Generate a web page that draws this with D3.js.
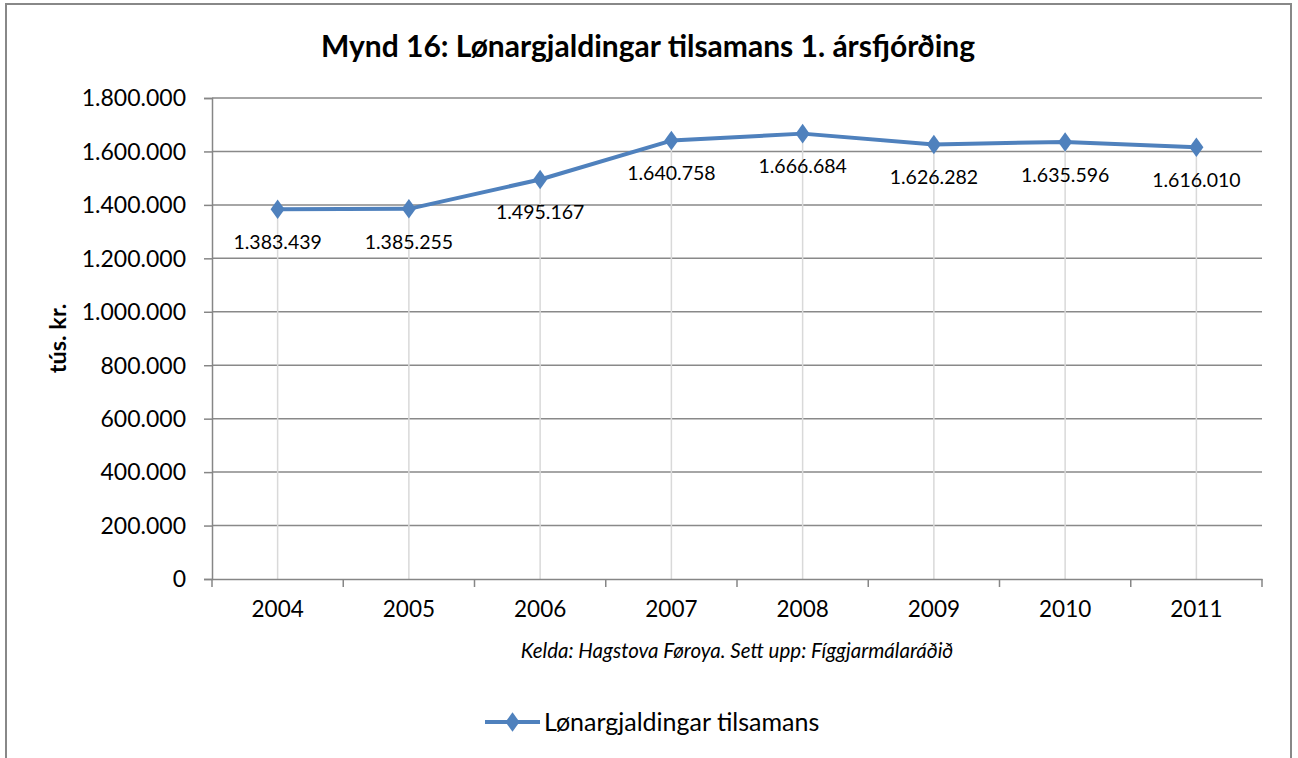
<!DOCTYPE html>
<html>
<head>
    <meta charset="utf-8">
    <script src="https://d3js.org/d3.v7.min.js"></script>
    <style>
        body {
            margin: 0;
            background: #fff;
            font-family: Lato, "Open Sans", sans-serif;
        }
        svg text {
            fill: #000;
        }
    </style>
</head>
<body>
    <script>
        const years = ["2004", "2005", "2006", "2007", "2008", "2009", "2010", "2011"];
        const wages = [1383439, 1385255, 1495167, 1640758, 1666684, 1626282, 1635596, 1616010];
        const yTicks = [0, 200000, 400000, 600000, 800000, 1000000, 1200000, 1400000, 1600000, 1800000];

        const title = "Mynd 16: Lønargjaldingar tilsamans 1. ársfjórðing";
        const yTitle = "tús. kr.";
        const source = "Kelda: Hagstova Føroya. Sett upp: Fíggjarmálaráðið";
        const seriesName = "Lønargjaldingar tilsamans";

        const data = years.map((y, i) => ({ year: y, value: wages[i] }));

        const width = 1298, height = 758;
        const margin = { top: 98, right: 36, bottom: 179, left: 212 };
        const blue = "#4f81bd";
        const fmt = v => d3.format(",")(v).replace(/,/g, ".");

        const svg = d3.select("body").append("svg")
            .attr("width", width)
            .attr("height", height);

        // outer frame (bottom edge is cut off in the original)
        svg.append("rect")
            .attr("x", 6).attr("y", 4)
            .attr("width", 1285).attr("height", 800)
            .attr("fill", "none")
            .attr("stroke", "#888")
            .attr("stroke-width", 2);

        const x = d3.scaleBand()
            .domain(years)
            .range([margin.left, width - margin.right]);

        const y = d3.scaleLinear()
            .domain([0, 1800000])
            .range([height - margin.bottom, margin.top]);

        // horizontal gridlines
        svg.append("g")
            .selectAll("line")
            .data(yTicks.filter(t => t > 0))
            .enter().append("line")
            .attr("x1", margin.left)
            .attr("x2", width - margin.right)
            .attr("y1", d => y(d))
            .attr("y2", d => y(d))
            .attr("stroke", "#898989")
            .attr("stroke-width", 1.5);

        // drop lines from points to axis
        svg.append("g")
            .selectAll("line")
            .data(data)
            .enter().append("line")
            .attr("x1", d => x(d.year) + x.bandwidth() / 2)
            .attr("x2", d => x(d.year) + x.bandwidth() / 2)
            .attr("y1", d => y(d.value))
            .attr("y2", y(0))
            .attr("stroke", "#d9d9d9")
            .attr("stroke-width", 1.5);

        // y axis
        const yAxis = svg.append("g")
            .attr("transform", `translate(${margin.left},0)`)
            .call(d3.axisLeft(y).tickValues(yTicks).tickFormat(fmt).tickSize(8).tickPadding(18));
        yAxis.selectAll("line, path").attr("stroke", "#868686").attr("stroke-width", 1.5);
        yAxis.selectAll("text")
            .style("font-family", "Lato, sans-serif")
            .style("font-size", "23px")
            .attr("dy", "0.34em");

        // x axis
        const xAxis = svg.append("g")
            .attr("transform", `translate(0,${y(0)})`)
            .call(d3.axisBottom(x).tickSize(0).tickPadding(22));
        xAxis.select("path").attr("stroke", "#868686").attr("stroke-width", 1.5);
        xAxis.selectAll("text")
            .style("font-family", "Lato, sans-serif")
            .style("font-size", "22.5px")
            .attr("dy", "0.72em");

        // x tick marks at category boundaries
        svg.append("g")
            .selectAll("line")
            .data(years.concat(["end"]))
            .enter().append("line")
            .attr("x1", (d, i) => margin.left + i * x.bandwidth())
            .attr("x2", (d, i) => margin.left + i * x.bandwidth())
            .attr("y1", y(0))
            .attr("y2", y(0) + 8)
            .attr("stroke", "#868686")
            .attr("stroke-width", 1.5);

        // series line
        const line = d3.line()
            .x(d => x(d.year) + x.bandwidth() / 2)
            .y(d => y(d.value));

        svg.append("path")
            .datum(data)
            .attr("d", line)
            .attr("fill", "none")
            .attr("stroke", blue)
            .attr("stroke-width", 4)
            .attr("stroke-linejoin", "round");

        const diamond = d3.symbol().type(d3.symbolDiamond).size(110);

        svg.append("g")
            .selectAll("path")
            .data(data)
            .enter().append("path")
            .attr("d", diamond)
            .attr("transform", d => `translate(${x(d.year) + x.bandwidth() / 2},${y(d.value)}) scale(1.25,1)`)
            .attr("fill", blue);

        // data labels
        svg.append("g")
            .selectAll("text")
            .data(data)
            .enter().append("text")
            .attr("x", d => x(d.year) + x.bandwidth() / 2)
            .attr("y", d => y(d.value) + 33)
            .attr("dy", "0.35em")
            .attr("text-anchor", "middle")
            .style("font-size", "19.5px")
            .text(d => fmt(d.value));

        // title
        svg.append("text")
            .attr("x", 648)
            .attr("y", 57)
            .attr("text-anchor", "middle")
            .style("font-size", "30px")
            .style("font-weight", "bold")
            .text(title);

        // y axis title
        svg.append("text")
            .attr("transform", `translate(66,${(y(0) + y(1800000)) / 2}) rotate(-90)`)
            .attr("text-anchor", "middle")
            .style("font-size", "23.5px")
            .style("font-weight", "bold")
            .text(yTitle);

        // source note
        svg.append("text")
            .attr("x", 737)
            .attr("y", 658)
            .attr("text-anchor", "middle")
            .style("font-size", "20.5px")
            .style("font-style", "italic")
            .text(source);

        // legend
        const legend = svg.append("g").attr("transform", "translate(485,722)");
        legend.append("line")
            .attr("x1", 0).attr("x2", 55)
            .attr("stroke", blue)
            .attr("stroke-width", 4);
        legend.append("path")
            .attr("d", diamond)
            .attr("transform", "translate(27.5,0) scale(1.25,1)")
            .attr("fill", blue);
        legend.append("text")
            .attr("x", 59)
            .attr("dy", "0.35em")
            .style("font-size", "25px")
            .text(seriesName);
    </script>
</body>
</html>
